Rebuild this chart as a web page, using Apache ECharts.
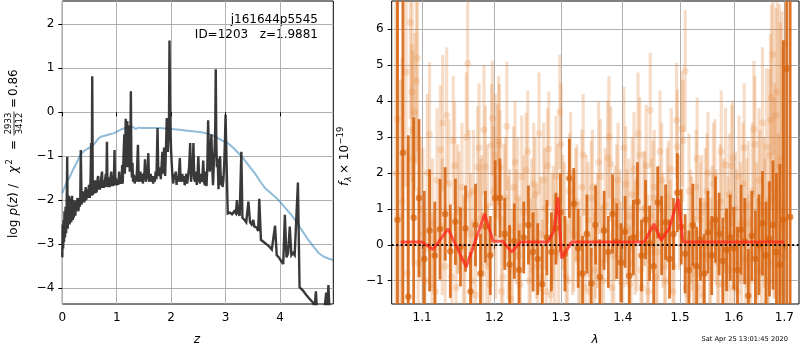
<!DOCTYPE html>
<html>
<head>
<meta charset="utf-8">
<script src="https://cdn.jsdelivr.net/npm/echarts@6/dist/echarts.min.js"></script>
<style>
html,body{margin:0;padding:0;background:#fff;}
#chart{width:800px;height:350px;}
</style>
</head>
<body>
<div id="chart"></div>
<script>
// ---- tick values ----
const zTicks = [0, 1, 2, 3, 4];
const logpTicks = [-4, -3, -2, -1, 0, 1, 2];
const lamTicks = [1.1, 1.2, 1.3, 1.4, 1.5, 1.6, 1.7];
const fluxTicks = [-1, 0, 1, 2, 3, 4, 5, 6];

// ---- redshift probability, log p(z) ----
const pzCurve = [
  [0.000,-3.30],[0.008,-2.55],[0.016,-3.10],[0.024,-2.45],[0.032,-2.95],[0.040,-2.25],[0.050,-2.85],[0.060,-2.15],
  [0.070,-2.75],[0.080,-2.20],[0.090,-1.01],[0.100,-2.65],[0.108,-2.10],[0.115,-2.55],[0.125,-1.90],[0.135,-2.55],
  [0.143,-2.20],[0.150,-1.95],[0.158,-2.45],[0.165,-2.50],[0.172,-2.10],[0.180,-1.90],[0.188,-2.40],[0.195,-2.45],
  [0.203,-2.15],[0.210,-2.40],[0.225,-2.00],[0.240,-2.35],[0.250,-2.10],[0.260,-2.25],[0.270,-2.05],[0.280,-1.95],
  [0.290,-2.25],[0.300,-2.20],[0.310,-1.95],[0.320,-2.15],[0.330,-2.00],[0.340,-0.86],[0.355,-2.10],[0.365,-1.90],
  [0.375,-2.05],[0.385,-1.80],[0.395,-1.85],[0.405,-2.05],[0.420,-1.85],[0.430,-1.70],[0.440,-2.00],[0.450,-2.00],
  [0.460,-1.75],[0.470,-1.95],[0.480,-1.80],[0.490,-1.65],[0.505,-1.95],[0.520,-1.50],[0.530,-0.70],[0.540,-1.90],
  [0.550,0.82],[0.560,-1.88],[0.570,-1.60],[0.580,-1.85],[0.590,-1.70],[0.600,-1.55],[0.610,-1.84],[0.620,-1.65],
  [0.630,-1.82],[0.640,-1.78],[0.650,-1.50],[0.660,-1.45],[0.670,-1.76],[0.680,-1.60],[0.690,-1.76],[0.700,-1.72],
  [0.715,-1.50],[0.730,-1.35],[0.740,-1.72],[0.750,-1.55],[0.765,-1.72],[0.780,-1.70],[0.790,-1.50],[0.800,-1.40],
  [0.810,-1.70],[0.820,-0.67],[0.830,-1.64],[0.840,-1.70],[0.855,-1.48],[0.870,-1.70],[0.885,-1.52],[0.900,-1.35],
  [0.910,-1.68],[0.920,-1.48],[0.930,-1.68],[0.940,-1.66],[0.950,-1.42],[0.960,-0.86],[0.970,-1.66],[0.985,-1.50],
  [1.000,-1.66],[1.015,-1.55],[1.030,-1.65],[1.045,-1.35],[1.060,-1.63],[1.075,-1.50],[1.090,-1.63],[1.100,-1.20],
  [1.110,-1.62],[1.125,-1.00],[1.140,-0.50],[1.150,-1.40],[1.158,-0.80],[1.165,-0.15],[1.172,-1.25],[1.180,-1.10],
  [1.188,-0.60],[1.195,-0.20],[1.203,-1.05],[1.210,-0.80],[1.218,-1.25],[1.225,-0.30],[1.233,-1.05],[1.240,-1.35],
  [1.250,-0.90],[1.260,0.48],[1.270,-1.25],[1.280,-1.48],[1.290,-1.15],[1.300,-1.58],[1.315,-1.42],[1.330,-1.62],
  [1.345,-1.45],[1.360,-1.58],[1.375,-1.25],[1.390,-0.74],[1.405,-1.58],[1.420,-1.62],[1.435,-1.35],[1.450,-1.58],
  [1.465,-1.40],[1.480,-1.62],[1.495,-1.45],[1.510,-1.35],[1.520,-1.07],[1.535,-1.58],[1.550,-1.60],[1.565,-1.40],
  [1.580,-0.93],[1.595,-1.58],[1.610,-1.62],[1.625,-1.40],[1.640,-1.58],[1.655,-1.45],[1.670,-1.62],[1.685,-1.45],
  [1.700,-1.58],[1.715,-1.35],[1.730,-1.52],[1.750,-0.36],[1.765,-1.45],[1.780,-1.48],[1.795,-1.25],[1.810,-1.52],
  [1.825,-1.20],[1.840,-0.90],[1.855,-1.40],[1.870,-0.80],[1.880,-1.25],[1.890,-1.45],[1.900,-1.00],[1.910,-0.60],
  [1.920,-0.13],[1.930,-0.80],[1.940,-0.90],[1.950,-0.60],[1.960,-0.30],[1.970,1.63],[1.980,0.20],[1.990,-0.50],
  [2.000,-0.90],[2.010,-1.15],[2.025,-1.45],[2.040,-1.62],[2.055,-1.40],[2.070,-1.52],[2.085,-1.35],[2.100,-1.65],
  [2.115,-1.45],[2.130,-1.58],[2.145,-1.35],[2.160,-1.04],[2.175,-1.58],[2.190,-1.62],[2.205,-1.40],[2.220,-1.58],
  [2.235,-1.45],[2.250,-1.66],[2.265,-1.50],[2.280,-1.40],[2.295,-1.62],[2.310,-1.62],[2.330,-1.25],[2.350,-0.70],
  [2.365,-1.58],[2.380,-1.58],[2.395,-1.25],[2.410,-0.70],[2.425,-1.52],[2.440,-1.58],[2.455,-1.35],[2.470,-1.65],
  [2.485,-1.45],[2.500,-1.00],[2.515,-1.52],[2.530,-1.62],[2.545,-1.40],[2.560,-1.58],[2.575,-1.45],[2.590,-1.10],
  [2.605,-1.58],[2.620,-1.66],[2.635,-1.35],[2.650,-1.68],[2.665,-1.25],[2.680,-0.18],[2.695,-1.00],[2.710,-1.35],
  [2.725,-0.90],[2.740,-0.50],[2.755,-1.25],[2.770,-1.66],[2.785,-1.15],[2.800,-0.80],[2.810,-0.40],[2.820,0.98],
  [2.830,-0.60],[2.840,-1.25],[2.855,-1.05],[2.870,-1.75],[2.885,-1.35],[2.900,-1.00],[2.915,-1.66],[2.930,-1.45],
  [2.945,-1.70],[2.960,-1.55],[2.975,-1.20],[2.990,-0.60],[3.000,-0.06],[3.020,-1.20],[3.040,-2.30],[3.080,-2.28],
  [3.120,-2.32],[3.160,-2.25],[3.190,-2.30],[3.210,-2.00],[3.230,-2.30],[3.260,-2.35],[3.290,-0.90],[3.310,-2.40],
  [3.350,-2.45],[3.380,-2.50],[3.420,-2.03],[3.450,-2.50],[3.480,-2.55],[3.510,-2.45],[3.530,-2.60],[3.570,-2.62],
  [3.600,-2.70],[3.620,-1.97],[3.650,-2.90],[3.700,-2.95],[3.750,-3.00],[3.800,-3.05],[3.850,-3.12],[3.880,-3.10],
  [3.910,-2.58],[3.940,-3.25],[3.980,-3.30],[4.020,-3.38],[4.060,-3.45],[4.090,-2.33],[4.120,-3.30],[4.150,-3.20],
  [4.180,-2.60],[4.210,-3.25],[4.240,-3.20],[4.270,-3.25],[4.300,-3.25],[4.330,-1.60],[4.360,-3.98],[4.420,-4.05],
  [4.480,-4.15],[4.550,-4.25],[4.600,-4.32],[4.640,-4.42],[4.660,-4.07],[4.680,-4.50],[4.720,-4.60],[4.780,-4.55],
  [4.820,-4.45],[4.850,-4.10],[4.870,-4.55],[4.890,-3.93],[4.910,-4.50],[4.950,-4.60],[4.980,-4.70]
];

// ---- smooth prior curve ----
const priorCurve = [
  [0.00,-1.84],[0.07,-1.62],[0.14,-1.46],[0.20,-1.30],[0.26,-1.16],[0.32,-1.00],[0.39,-0.89],[0.46,-0.83],
  [0.54,-0.78],[0.60,-0.70],[0.66,-0.60],[0.72,-0.55],[0.80,-0.53],[0.87,-0.50],[0.94,-0.48],[1.02,-0.43],
  [1.10,-0.38],[1.18,-0.35],[1.24,-0.33],[1.30,-0.34],[1.35,-0.38],[1.40,-0.35],[1.50,-0.36],[1.60,-0.36],
  [1.70,-0.36],[1.78,-0.36],[1.90,-0.37],[2.00,-0.38],[2.16,-0.40],[2.30,-0.42],[2.44,-0.44],[2.53,-0.45],
  [2.65,-0.48],[2.75,-0.52],[2.85,-0.58],[2.95,-0.65],[3.05,-0.71],[3.15,-0.82],[3.30,-1.01],[3.42,-1.20],
  [3.54,-1.39],[3.64,-1.58],[3.73,-1.73],[3.85,-1.86],[3.97,-1.99],[4.10,-2.18],[4.20,-2.32],[4.28,-2.45],
  [4.40,-2.68],[4.52,-2.90],[4.62,-3.06],[4.71,-3.20],[4.80,-3.28],[4.90,-3.33],[4.98,-3.36]
];

// ---- binned spectrum (dark points) ----
const specLam = [
  1.068,1.075,1.082,1.089,1.096,1.103,1.110,1.117,1.124,1.131,1.138,1.145,1.152,1.159,1.166,1.173,
  1.180,1.187,1.194,1.201,1.208,1.215,1.222,1.229,1.236,1.243,1.250,1.257,1.264,1.271,1.278,1.285,
  1.292,1.299,1.306,1.313,1.320,1.327,1.334,1.341,1.348,1.355,1.362,1.369,1.376,1.383,1.390,1.397,
  1.404,1.411,1.418,1.425,1.432,1.439,1.446,1.453,1.460,1.467,1.474,1.481,1.488,1.495,1.502,1.509,
  1.516,1.523,1.530,1.537,1.544,1.551,1.558,1.565,1.572,1.579,1.586,1.593,1.600,1.607,1.614,1.621,
  1.628,1.635,1.642,1.649,1.656,1.663,1.670,1.677,1.684,1.691,1.698,1.705,1.712
];
const specFlux = [
  0.70,2.56,-1.45,0.75,1.30,-0.40,0.40,-0.30,0.43,0.86,-0.18,0.64,-0.06,0.45,-1.30,0.55,
  -0.80,0.50,-0.30,1.30,1.30,0.30,-0.55,0.10,-0.70,0.20,0.55,-0.20,-0.40,-1.10,0.20,-0.20,
  0.45,0.90,-0.25,1.85,1.14,-0.10,-0.80,0.30,-1.08,0.55,-0.90,0.40,-0.20,0.86,0.10,-0.50,
  0.36,-0.86,0.20,1.20,-0.30,0.70,0.04,-0.60,1.18,0.26,0.63,-0.40,0.30,1.45,0.50,-0.25,
  -0.70,0.55,-0.60,0.15,-0.80,0.35,-0.30,0.70,0.30,-0.45,-0.14,0.20,-0.10,-0.70,0.42,0.10,
  -1.42,0.25,-0.40,0.00,0.60,-0.30,0.16,0.55,-0.20,-0.55,0.70,4.90,0.77
];
const specErr = [
  9.0,7.0,4.5,2.8,2.2,1.9,1.7,1.5,1.4,1.3,1.3,1.2,1.1,1.2,1.1,1.15,
  1.1,1.0,1.1,1.05,1.1,1.0,1.1,1.05,1.1,1.0,1.1,1.1,1.0,1.1,1.05,1.1,
  1.0,1.1,1.05,1.1,1.0,1.1,1.05,1.1,1.0,1.1,1.05,1.1,1.0,1.1,1.05,1.1,
  1.0,1.1,1.05,1.1,1.0,1.1,1.05,1.1,1.0,1.1,1.05,1.1,1.0,1.1,1.05,1.1,
  1.1,1.15,1.1,1.15,1.1,1.15,1.1,1.2,1.15,1.2,1.15,1.2,1.15,1.2,1.25,1.2,
  1.3,1.25,1.35,1.4,1.45,1.5,1.6,1.8,2.2,2.8,5.0,9.0,8.0
];

// ---- individual beams (light points), first orientation ----
const beamALam = [
  1.066,1.072,1.079,1.0846,1.0865,1.087,1.0905,1.0925,1.095,1.099,1.104,1.110,1.114,1.118,1.1245,1.1277,
  1.131,1.136,1.142,1.146,1.150,1.154,1.158,1.162,1.166,1.170,1.173,1.176,1.180,1.183,1.187,1.190,
  1.193,1.196,1.197,1.201,1.204,1.207,1.208,1.212,1.216,1.220,1.224,1.228,1.232,1.236,1.240,1.2465,
  1.251,1.255,1.260,1.264,1.268,1.273,1.277,1.281,1.286,1.290,1.294,1.298,1.303,1.308,1.313,1.318,
  1.323,1.328,1.333,1.338,1.343,1.348,1.353,1.358,1.363,1.368,1.375,1.380,1.385,1.390,1.395,1.400,
  1.405,1.410,1.414,1.419,1.424,1.429,1.433,1.438,1.442,1.447,1.452,1.457,1.462,1.467,1.472,1.477,
  1.482,1.487,1.4935,1.495,1.503,1.509,1.514,1.519,1.524,1.529,1.534,1.539,1.544,1.549,1.554,1.559,
  1.564,1.569,1.574,1.579,1.584,1.589,1.593,1.598,1.603,1.608,1.613,1.618,1.623,1.628,1.633,1.639,
  1.644,1.649,1.654,1.659,1.664,1.668,1.672,1.677,1.681,1.6855,1.690,1.695
];
const beamAFlux = [
  2.0,0.8,4.81,6.2,3.2,4.26,3.7,4.56,-0.5,1.0,-1.0,3.08,0.6,-1.3,2.65,3.39,
  -0.6,1.7,2.9,-1.2,0.9,1.6,-0.4,5.05,0.3,1.5,-1.4,2.16,0.7,-0.8,2.17,1.1,
  -1.1,2.78,3.53,2.5,2.31,2.78,2.16,-0.9,1.3,0.2,-1.5,1.6,0.5,-0.3,1.9,2.08,
  -1.0,0.8,1.4,-0.6,0.3,1.8,-1.3,2.67,0.4,-0.2,1.2,3.7,0.9,-0.9,1.5,0.2,
  1.1,-0.4,1.6,-1.2,0.7,1.3,-0.7,0.4,1.9,-1.0,2.42,2.25,-0.3,1.2,0.5,-1.1,
  1.7,0.8,-0.5,2.1,0.3,2.5,-1.2,1.0,-0.2,3.75,1.3,-0.9,0.6,1.8,-0.6,1.1,
  0.2,-1.3,3.47,2.73,3.23,4.84,-1.4,0.5,-0.6,1.6,-1.2,0.9,-0.3,1.5,-0.9,0.6,
  1.9,-0.5,1.2,-1.1,2.22,0.3,-0.7,2.42,1.0,-1.3,0.6,1.7,-0.4,1.1,-1.0,3.22,
  0.4,1.8,-0.8,0.9,2.72,-0.5,3.47,5.3,1.5,4.26,2.2,0.5
];
const beamAErr = [
  5.0,3.8,3.2,2.7,2.4,2.5,2.2,2.3,2.1,2.0,1.9,2.0,1.8,1.8,1.8,1.9,
  1.7,1.8,1.8,1.7,1.7,1.8,1.7,2.0,1.7,1.7,1.7,1.7,1.7,1.7,1.7,1.7,
  1.7,1.7,1.6,1.7,1.6,1.7,1.6,1.7,1.7,1.7,1.7,1.7,1.6,1.6,1.7,1.6,
  1.6,1.6,1.6,1.6,1.6,1.6,1.6,1.6,1.6,1.6,1.6,1.6,1.6,1.6,1.6,1.6,
  1.6,1.6,1.6,1.6,1.6,1.6,1.6,1.6,1.6,1.6,1.6,1.6,1.6,1.6,1.6,1.6,
  1.6,1.6,1.6,1.6,1.6,1.6,1.6,1.6,1.6,1.6,1.6,1.6,1.6,1.6,1.6,1.6,
  1.6,1.6,1.6,1.6,1.6,1.7,1.6,1.6,1.6,1.6,1.6,1.6,1.6,1.6,1.6,1.6,
  1.6,1.6,1.6,1.6,1.6,1.6,1.6,1.6,1.6,1.6,1.7,1.7,1.7,1.8,1.8,1.9,
  1.9,2.0,2.0,2.1,2.2,2.3,2.4,2.8,3.0,3.4,4.5,6.0
];

// ---- individual beams (light points), second orientation ----
const beamBLam = [
  1.068,1.074,1.081,1.088,1.094,1.101,1.107,1.113,1.120,1.127,1.133,1.140,1.144,1.148,1.156,1.160,
  1.164,1.168,1.178,1.182,1.185,1.189,1.199,1.202,1.206,1.210,1.214,1.218,1.222,1.226,1.230,1.234,
  1.238,1.243,1.249,1.253,1.258,1.262,1.266,1.271,1.275,1.279,1.284,1.288,1.292,1.296,1.300,1.305,
  1.310,1.315,1.320,1.325,1.330,1.335,1.340,1.345,1.350,1.355,1.360,1.365,1.371,1.377,1.382,1.387,
  1.392,1.397,1.402,1.407,1.412,1.416,1.421,1.426,1.431,1.436,1.440,1.444,1.449,1.454,1.459,1.464,
  1.469,1.474,1.479,1.484,1.489,1.499,1.505,1.511,1.516,1.521,1.526,1.531,1.536,1.541,1.546,1.551,
  1.556,1.561,1.566,1.571,1.576,1.581,1.586,1.591,1.596,1.600,1.605,1.610,1.615,1.620,1.625,1.630,
  1.636,1.641,1.646,1.651,1.656,1.661,1.666,1.670,1.674,1.679,1.683,1.688,1.692,1.697,1.702
];
const beamBFlux = [
  3.5,1.2,-0.8,2.4,5.2,0.3,2.0,-1.2,1.8,0.5,3.6,-0.9,2.2,1.0,-0.4,3.0,
  1.4,-1.0,2.7,0.8,3.2,-0.6,1.5,0.2,2.9,-1.3,1.1,3.3,0.4,-0.7,2.3,1.3,
  -1.1,0.9,2.6,-0.3,1.7,0.1,3.1,-0.9,1.0,2.2,-1.4,0.6,1.9,-0.2,2.8,0.7,
  -1.0,2.0,0.3,1.2,-0.8,2.5,0.9,-1.3,1.6,0.1,2.3,-0.5,1.1,3.0,-1.2,0.6,
  1.8,-0.4,2.7,0.5,-1.1,1.4,0.2,3.1,-0.7,1.0,2.2,-1.3,0.8,1.6,-0.2,2.6,
  0.4,-1.0,1.3,2.1,-0.6,0.9,2.9,-1.2,1.5,0.3,-0.8,2.4,0.7,-1.4,1.1,2.0,
  -0.3,1.7,0.5,-1.1,2.6,0.8,-0.6,1.4,2.2,-1.2,0.4,1.9,-0.9,2.7,0.6,-0.4,
  1.5,2.8,-0.7,1.2,3.4,0.2,-1.0,2.5,4.1,1.3,3.6,-0.3,2.4,1.0,5.6
];
const beamBErr = [
  4.5,4.0,3.5,3.0,2.6,2.4,2.2,2.1,2.0,1.9,1.9,1.8,1.8,1.8,1.8,1.8,
  1.8,1.7,1.8,1.7,1.8,1.7,1.8,1.7,1.8,1.7,1.7,1.8,1.7,1.7,1.7,1.7,
  1.7,1.6,1.7,1.6,1.7,1.6,1.7,1.6,1.7,1.6,1.7,1.6,1.7,1.6,1.7,1.6,
  1.6,1.7,1.6,1.6,1.6,1.7,1.6,1.6,1.6,1.6,1.7,1.6,1.6,1.7,1.6,1.6,
  1.6,1.6,1.7,1.6,1.6,1.6,1.6,1.7,1.6,1.6,1.7,1.6,1.6,1.6,1.6,1.7,
  1.6,1.6,1.6,1.7,1.6,1.6,1.7,1.6,1.6,1.6,1.6,1.7,1.6,1.6,1.6,1.7,
  1.6,1.7,1.6,1.6,1.7,1.6,1.6,1.7,1.7,1.6,1.7,1.7,1.7,1.8,1.8,1.8,
  1.9,1.9,2.0,2.0,2.1,2.2,2.3,2.4,2.6,2.8,3.0,3.4,3.8,4.5,6.0
];

// ---- best-fit line model ----
const modelLam = [1.072,1.100,1.1146,1.135,1.160,1.186,1.198,1.212,1.225,1.238,1.280,1.289,1.295,1.301,1.3165,
                  1.437,1.4534,1.466,1.480,1.4965,1.505,1.700];
const modelFlux = [0.08,0.08,-0.13,0.44,-0.62,0.86,0.10,0.10,-0.20,0.08,0.08,0.40,1.32,-0.38,0.08,
                   0.08,0.58,0.12,0.45,1.28,0.08,0.08];

const FONT = 'DejaVu Sans';
const chart = echarts.init(document.getElementById('chart'), null, {renderer: 'canvas'});

const minus = v => (v < 0 ? '\u2212' + Math.abs(v) : String(v));
const lnTicks = lamTicks.map(Math.log);

function axisCommon(ticks, fmt) {
  return {
    axisLine: {show: false},
    axisTick: {show: true, inside: false, length: 4, customValues: ticks, lineStyle: {color: '#000', width: 1}},
    axisLabel: {show: true, customValues: ticks, color: '#000', fontFamily: FONT, fontSize: 12, margin: 8, formatter: fmt},
    splitLine: {show: true, lineStyle: {color: '#b0b0b0', width: 1}}
  };
}

// vertical error bars on the spectrum panel (log-wavelength x axis)
function errorBars(lam, flux, err, color, width, z) {
  return {
    type: 'custom', xAxisIndex: 1, yAxisIndex: 1, z: z, silent: true, clip: true,
    data: lam.map((l, i) => [Math.log(l), flux[i] - err[i], flux[i] + err[i]]),
    encode: {x: 0, y: [1, 2]},
    renderItem: (params, api) => {
      const a = api.coord([api.value(0), api.value(1)]);
      const b = api.coord([api.value(0), api.value(2)]);
      return {type: 'line', shape: {x1: a[0], y1: a[1], x2: b[0], y2: b[1]},
              style: {stroke: color, lineWidth: width}};
    }
  };
}
function points(lam, flux, color, size, z) {
  return {type: 'scatter', xAxisIndex: 1, yAxisIndex: 1, z: z, silent: true, clip: true, symbolSize: size,
          itemStyle: {color: color}, data: lam.map((l, i) => [Math.log(l), flux[i]])};
}

const LIGHT = 'rgba(228,132,58,0.28)';
const DARK = 'rgba(214,98,12,0.88)';

const option = {
  animation: false,
  backgroundColor: '#fff',
  grid: [
    {left: 62.3, top: 1, width: 271, height: 303, show: true, borderColor: '#000', borderWidth: 1, backgroundColor: 'transparent'},
    {left: 391.7, top: 1, width: 407.3, height: 303, show: true, borderColor: '#000', borderWidth: 1, backgroundColor: 'transparent'}
  ],
  xAxis: [
    Object.assign({type: 'value', gridIndex: 0, min: 0, max: 4.98}, axisCommon(zTicks, v => String(v))),
    Object.assign({type: 'value', gridIndex: 1, min: Math.log(1.0606), max: Math.log(1.7303)},
                  axisCommon(lnTicks, v => Math.exp(v).toFixed(1)))
  ],
  yAxis: [
    Object.assign({type: 'value', gridIndex: 0, min: -4.36, max: 2.53}, axisCommon(logpTicks, minus)),
    Object.assign({type: 'value', gridIndex: 1, min: -1.65, max: 6.79}, axisCommon(fluxTicks, minus))
  ],
  series: [
    {type: 'line', xAxisIndex: 0, yAxisIndex: 0, data: priorCurve, showSymbol: false, z: 3,
     lineStyle: {color: 'rgba(31,119,180,0.5)', width: 2}, clip: true, silent: true},
    {type: 'line', xAxisIndex: 0, yAxisIndex: 0, data: pzCurve, showSymbol: false, z: 4,
     lineStyle: {color: 'rgba(40,40,40,0.92)', width: 2.4, join: 'miter', miterLimit: 3}, clip: true, silent: true},

    errorBars(beamALam, beamAFlux, beamAErr, LIGHT, 3.2, 2),
    points(beamALam, beamAFlux, LIGHT, 7, 2),
    errorBars(beamBLam, beamBFlux, beamBErr, LIGHT, 3.2, 2),
    points(beamBLam, beamBFlux, LIGHT, 7, 2),
    errorBars(specLam, specFlux, specErr, DARK, 2.8, 3),
    points(specLam, specFlux, DARK, 6.5, 3),
    {type: 'line', xAxisIndex: 1, yAxisIndex: 1, z: 5, silent: true, clip: true, showSymbol: false,
     lineStyle: {color: 'rgba(255,35,25,0.72)', width: 3},
     data: modelLam.map((l, i) => [Math.log(l), modelFlux[i]])},
    {type: 'line', xAxisIndex: 1, yAxisIndex: 1, z: 6, silent: true, data: [],
     markLine: {silent: true, symbol: 'none', label: {show: false}, animation: false,
                lineStyle: {color: '#000', width: 1.8, type: [2, 2.5]}, data: [{yAxis: 0}]}}
  ],
  graphic: [
    {type: 'text', x: 318, y: 20, style: {text: 'j161644p5545', fill: '#000', fontFamily: FONT, fontSize: 12, align: 'right', verticalAlign: 'middle'}},
    {type: 'text', x: 318, y: 35, style: {text: 'ID=1203   z=1.9881', fill: '#000', fontFamily: FONT, fontSize: 12, align: 'right', verticalAlign: 'middle'}},
    {type: 'text', x: 197, y: 340, style: {text: 'z', fill: '#000', fontFamily: FONT, fontSize: 12, fontStyle: 'italic', align: 'center', verticalAlign: 'middle'}},
    {type: 'text', x: 595, y: 340, style: {text: 'λ', fill: '#000', fontFamily: FONT, fontSize: 12, fontStyle: 'italic', align: 'center', verticalAlign: 'middle'}},
    {type: 'text', x: 788, y: 339, style: {text: 'Sat Apr 25 13:01:45 2020', fill: '#000', fontFamily: FONT, fontSize: 6.7, align: 'right', verticalAlign: 'middle'}},
    // rotated y label of the p(z) panel
    {type: 'group', x: 14, y: 238, rotation: Math.PI / 2, children: [
      {type: 'text', x: 0, y: 0, style: {text: 'log ', fill: '#000', fontFamily: FONT, fontSize: 12, align: 'left', verticalAlign: 'middle'}},
      {type: 'text', x: 22.5, y: 0, style: {text: 'p', fill: '#000', fontFamily: FONT, fontSize: 12, fontStyle: 'italic', align: 'left', verticalAlign: 'middle'}},
      {type: 'text', x: 30, y: 0, style: {text: '(', fill: '#000', fontFamily: FONT, fontSize: 12, align: 'left', verticalAlign: 'middle'}},
      {type: 'text', x: 34.5, y: 0, style: {text: 'z', fill: '#000', fontFamily: FONT, fontSize: 12, fontStyle: 'italic', align: 'left', verticalAlign: 'middle'}},
      {type: 'text', x: 41, y: 0, style: {text: ')', fill: '#000', fontFamily: FONT, fontSize: 12, align: 'left', verticalAlign: 'middle'}},
      {type: 'text', x: 50, y: 0, style: {text: '/', fill: '#000', fontFamily: FONT, fontSize: 12, align: 'left', verticalAlign: 'middle'}},
      {type: 'text', x: 65, y: 0, style: {text: 'χ', fill: '#000', fontFamily: FONT, fontSize: 12, fontStyle: 'italic', align: 'left', verticalAlign: 'middle'}},
      {type: 'text', x: 73.5, y: -4, style: {text: '2', fill: '#000', fontFamily: FONT, fontSize: 8.5, align: 'left', verticalAlign: 'middle'}},
      {type: 'text', x: 88, y: 0, style: {text: '=', fill: '#000', fontFamily: FONT, fontSize: 12, align: 'left', verticalAlign: 'middle'}},
      {type: 'text', x: 114.5, y: -5.5, style: {text: '2933', fill: '#000', fontFamily: FONT, fontSize: 8.5, align: 'center', verticalAlign: 'middle'}},
      {type: 'line', shape: {x1: 102.5, y1: 0, x2: 126.5, y2: 0}, style: {stroke: '#000', lineWidth: 0.8}},
      {type: 'text', x: 114.5, y: 5.5, style: {text: '3412', fill: '#000', fontFamily: FONT, fontSize: 8.5, align: 'center', verticalAlign: 'middle'}},
      {type: 'text', x: 130, y: 0, style: {text: '=', fill: '#000', fontFamily: FONT, fontSize: 12, align: 'left', verticalAlign: 'middle'}},
      {type: 'text', x: 142, y: 0, style: {text: '0.86', fill: '#000', fontFamily: FONT, fontSize: 12, align: 'left', verticalAlign: 'middle'}}
    ]},
    // rotated y label of the spectrum panel
    {type: 'group', x: 345, y: 186, rotation: Math.PI / 2, children: [
      {type: 'text', x: 0, y: 0, style: {text: 'f', fill: '#000', fontFamily: FONT, fontSize: 12, fontStyle: 'italic', align: 'left', verticalAlign: 'middle'}},
      {type: 'text', x: 4.5, y: 3.5, style: {text: 'λ', fill: '#000', fontFamily: FONT, fontSize: 8.5, fontStyle: 'italic', align: 'left', verticalAlign: 'middle'}},
      {type: 'text', x: 12, y: 0, style: {text: '× 10', fill: '#000', fontFamily: FONT, fontSize: 12, align: 'left', verticalAlign: 'middle'}},
      {type: 'text', x: 41.5, y: -4.5, style: {text: '\u221219', fill: '#000', fontFamily: FONT, fontSize: 8.5, align: 'left', verticalAlign: 'middle'}}
    ]}
  ]
};

chart.setOption(option);
</script>
</body>
</html>
